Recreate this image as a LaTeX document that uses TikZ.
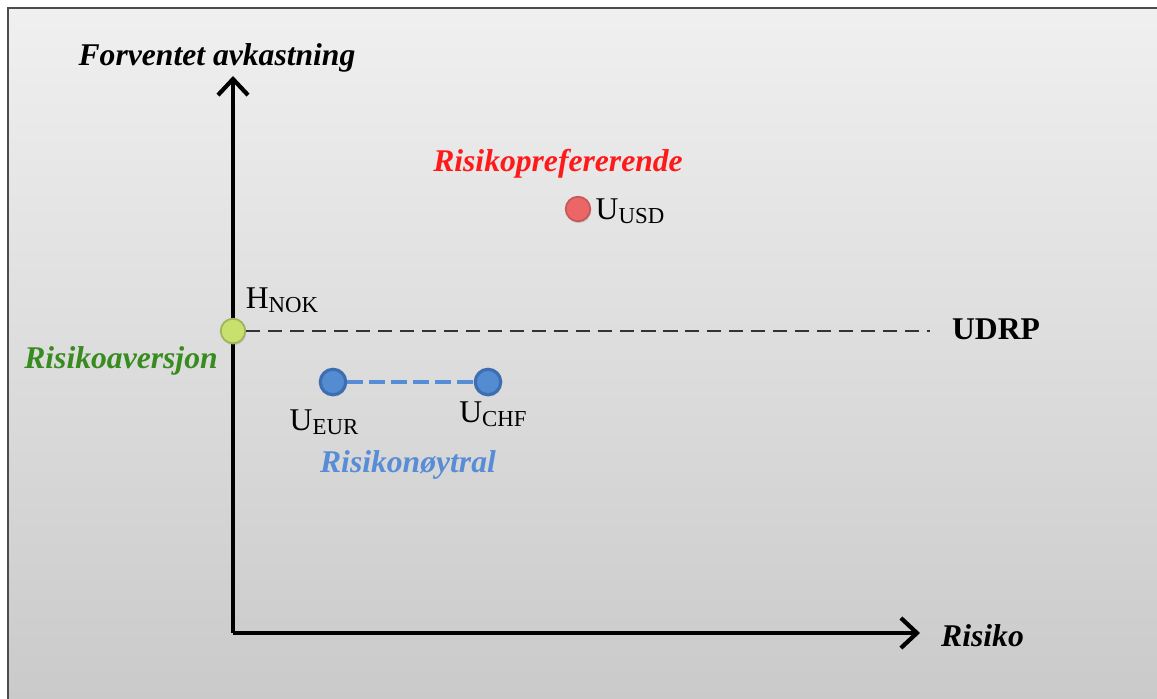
\documentclass[tikz,border=0pt]{standalone}
\usepackage{fontspec}
\setmainfont{Liberation Serif}
\usetikzlibrary{arrows.meta}
\usetikzlibrary{shadows}
\tikzset{dot/.style = {draw, circle, inner sep = 0, minimum size = 14pt, line width = 1pt, drop shadow={opacity=0.3, shadow xshift=0.5pt, shadow yshift=-1pt}}}
\tikzset{lbl/.style = {font=\fontsize{18}{20}\selectfont}}
\tikzset{head/.style = {font=\fontsize{18}{20}\selectfont\bfseries\itshape}}
\tikzset{axis/.style = {line width = 2.4pt, -{Straight Barb[length=3.2mm, width=6mm, line width=2.4pt]}}}
\definecolor{mgreen}{rgb}{0.22, 0.55, 0.12}
\definecolor{mblue}{rgb}{0.34, 0.55, 0.84}
\definecolor{mred}{rgb}{1, 0.1, 0.1}
\definecolor{dgreen}{rgb}{0.78, 0.88, 0.43}
\definecolor{dblue}{rgb}{0.33, 0.55, 0.82}
\definecolor{dbluerim}{rgb}{0.24, 0.43, 0.70}
\definecolor{dred}{rgb}{0.92, 0.40, 0.40}
\definecolor{bgtop}{rgb}{0.94, 0.94, 0.94}
\definecolor{bgbot}{rgb}{0.79, 0.79, 0.79}
\newcommand{\curlbl}[2]{#1\raisebox{-0.25ex}{\fontsize{13}{13}\selectfont #2}}

\begin{document}
\begin{tikzpicture}[x = 0.02cm, y = -0.02cm]
      \useasboundingbox (0, 0) rectangle (1157, 698);
      \shade [top color = bgtop, bottom color = bgbot, draw = black!70, line width = 0.8pt] (8, 8) rectangle (1170, 710);
      % axes
      \coordinate (origin) at (233, 633);
      \coordinate (ytop) at (233, 76);
      \coordinate (xend) at (920, 633);
      \draw [axis] (origin) -- (ytop);
      \draw [axis] (origin) -- (xend);
      \node [head] (ytitle) at (217, 58) {Forventet avkastning};
      \node [head, anchor = west] (xtitle) at (935, 636) {Risiko};
      % home currency
      \node [dot, fill = dgreen, draw = dgreen!80!black] (hnok) at (233, 331) {};
      \node [lbl] (hnoklbl) at (282, 300) {\curlbl{H}{NOK}};
      \coordinate (udrpend) at (930, 331);
      \draw [dash pattern = on 8pt off 4.5pt, line width = 0.9pt, black!80] (hnok) -- (udrpend);
      \node [lbl, font = \fontsize{18}{20}\selectfont\bfseries] (udrp) at (996, 329) {UDRP};
      \node [head, text = mgreen] (aversjon) at (121, 361) {Risikoaversjon};
      % neutral
      \node [dot, fill = dblue, draw = dbluerim, line width = 1.8pt, minimum size = 14.5pt] (ueur) at (333, 382) {};
      \node [dot, fill = dblue, draw = dbluerim, line width = 1.8pt, minimum size = 14.5pt] (uchf) at (488, 382) {};
      \draw [mblue, line width = 2.6pt, dash pattern = on 9pt off 3.5pt] (ueur) -- (uchf);
      \node [lbl] (ueurlbl) at (324, 422) {\curlbl{U}{EUR}};
      \node [lbl] (uchflbl) at (493, 414) {\curlbl{U}{CHF}};
      \node [head, text = mblue] (noytral) at (408, 465) {Risikonøytral};
      % preferring
      \node [dot, fill = dred, draw = dred!85!black] (uusd) at (578, 209) {};
      \node [lbl] (uusdlbl) at (630, 211) {\curlbl{U}{USD}};
      \node [head, text = mred] (prefer) at (558, 164) {Risikoprefererende};
    \end{tikzpicture}
\end{document}
